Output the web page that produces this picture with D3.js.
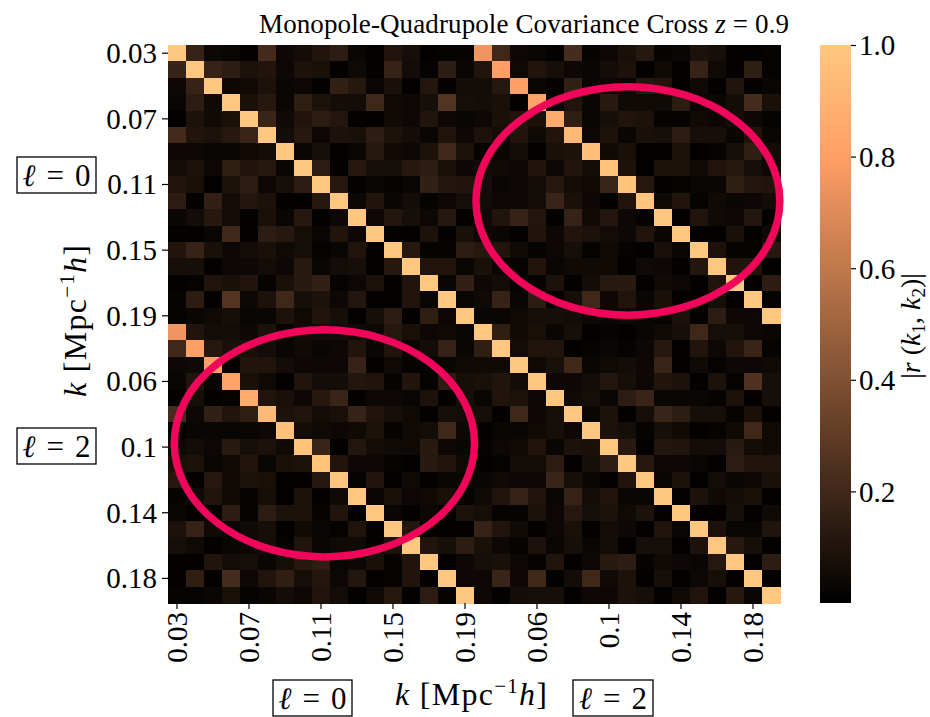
<!DOCTYPE html>
<html>
<head>
<meta charset="utf-8">
<script src="https://cdn.jsdelivr.net/npm/d3@7"></script>
<style>
  body { margin: 0; background: #fff; }
  svg text { font-family: "Liberation Serif", serif; fill: #000; }
  .tick text { font-size: 29px; }
</style>
</head>
<body>
<svg id="chart" width="930" height="717"></svg>
<script>
// k bins (same for monopole and quadrupole)
var kValues = [0.03, 0.04, 0.05, 0.06, 0.07, 0.08, 0.09, 0.1, 0.11, 0.12, 0.13, 0.14, 0.15, 0.16, 0.17, 0.18, 0.19];
var tickIndex = [0, 4, 8, 12, 16, 20, 24, 28, 32];
var colorTicks = [0.2, 0.4, 0.6, 0.8, 1.0];

// |r(k1,k2)|, l=0 x l=0 block
var monoMono = [
    [1, .17, .04, .03, .01, .21, .04, .06, .1, .14, .03, .01, .1, .07, .01, .02, .02],
    [.17, 1, .17, .14, .09, .1, .04, .09, .08, .01, .05, .01, .17, .06, .02, .14, .03],
    [.04, .17, 1, .04, .05, .09, .03, .04, .01, .16, .12, .03, .08, .01, .11, .01, .06],
    [.03, .14, .05, 1, .08, .12, .03, .15, .09, .06, .06, .2, .05, .04, .07, .26, .07],
    [.01, .09, .05, .08, 1, .18, .05, .1, .14, .11, .01, .01, .05, .04, .1, .04, .03],
    [.21, .1, .09, .12, .18, 1, .06, .12, .04, .09, .08, .14, .09, .06, .03, .1, .04],
    [.04, .04, .03, .03, .05, .06, 1, .03, .07, .01, .03, .12, .05, .04, .09, .2, .09],
    [.06, .09, .04, .15, .1, .12, .03, 1, .14, .01, .12, .07, .07, .12, .14, .08, .04],
    [.1, .08, .01, .09, .14, .04, .07, .14, 1, .12, .01, .03, .02, .03, .16, .11, .1],
    [.14, .01, .16, .06, .11, .09, .01, .01, .12, 1, .04, .1, .03, .06, .02, .04, .07],
    [.03, .06, .12, .06, .01, .08, .03, .12, .01, .04, 1, .04, .11, .07, .04, .12, .01],
    [.01, .01, .03, .2, .01, .14, .12, .07, .03, .1, .04, 1, .01, .01, .09, .01, .08],
    [.1, .17, .08, .04, .06, .08, .05, .07, .02, .03, .1, .01, 1, .12, .02, .02, .14],
    [.07, .07, .01, .04, .04, .06, .04, .13, .03, .06, .07, .01, .12, 1, .1, .1, .03],
    [.01, .02, .1, .08, .1, .02, .08, .13, .16, .02, .04, .09, .01, .1, 1, .03, .16],
    [.02, .14, .01, .26, .04, .09, .2, .07, .09, .04, .11, .01, .01, .1, .03, 1, .03],
    [.02, .03, .05, .07, .03, .03, .09, .05, .1, .07, .01, .07, .14, .01, .15, .04, 1]
];

// l=0 (rows) x l=2 (columns) block
var monoQuad = [
    [.75, .2, .04, .03, .01, .22, .02, .04, .08, .12, .02, .03, .09, .07, .01, .01, .02],
    [.1, .8, .05, .1, .07, .04, .03, .06, .09, .01, .05, .01, .17, .05, .01, .15, .02],
    [.06, .12, .8, .03, .01, .16, .03, .04, .03, .12, .1, .01, .05, .01, .1, .01, .03],
    [.06, .08, .01, .82, .02, .1, .03, .13, .05, .05, .05, .14, .03, .03, .06, .22, .08],
    [.04, .08, .1, .08, .86, .15, .03, .07, .1, .09, .02, .02, .05, .04, .07, .04, .02],
    [.09, .06, .1, .05, .1, .93, .04, .09, .03, .08, .07, .14, .07, .07, .03, .1, .03],
    [.02, .03, .06, .01, .08, .09, .97, .05, .08, .01, .01, .09, .01, .02, .07, .15, .06],
    [.06, .05, .04, .1, .04, .1, .06, .98, .09, .01, .09, .09, .05, .1, .12, .07, .04],
    [.06, .03, .04, .06, .12, .06, .05, .18, .98, .12, .01, .02, .03, .03, .15, .11, .1],
    [.06, .04, .04, .06, .18, .08, .04, .01, .1, .99, .05, .1, .02, .05, .03, .04, .06],
    [.05, .1, .17, .11, .01, .17, .05, .11, .04, .02, 1, .01, .1, .05, .04, .11, .01],
    [.04, .03, .01, .1, .04, .1, .09, .06, .04, .1, .03, 1, .01, .01, .08, .01, .05],
    [.12, .1, .05, .02, .04, .07, .02, .05, .02, .01, .08, .03, 1, .09, .02, .02, .12],
    [.08, .03, .02, .1, .03, .05, .05, .05, .01, .05, .04, .01, .11, 1, .1, .1, .01],
    [.04, .06, .02, .02, .09, .01, .06, .13, .13, .01, .05, .04, .01, .1, 1, .01, .14],
    [.05, .17, .03, .14, .01, .07, .2, .04, .1, .03, .08, .01, .01, .07, .01, 1, .02],
    [.03, .03, .05, .07, .07, .06, .04, .03, .05, .03, .02, .09, .01, .14, .04, .04, 1]
];

// l=2 x l=2 block
var quadQuad = [
    [1, .15, .05, .08, .03, .07, .01, .02, .01, .03, .05, .07, .2, .07, .07, .04, .03],
    [.15, 1, .06, .1, .1, .01, .02, .03, .02, .04, .12, .01, .1, .04, .1, .18, .02],
    [.05, .05, 1, .05, .08, .2, .03, .05, .06, .04, .18, .01, .05, .02, .04, .04, .05],
    [.08, .1, .06, 1, .04, .04, .06, .11, .07, .04, .1, .09, .01, .09, .02, .25, .07],
    [.03, .1, .09, .04, 1, .05, .07, .03, .14, .18, .03, .03, .03, .02, .09, .01, .07],
    [.07, .01, .2, .04, .07, 1, .03, .09, .01, .07, .18, .14, .07, .07, .02, .08, .01],
    [.01, .03, .03, .05, .07, .04, 1, .09, .07, .02, .07, .05, .01, .02, .05, .2, .05],
    [.02, .04, .05, .1, .03, .09, .08, 1, .13, .01, .11, .1, .06, .06, .13, .06, .05],
    [.01, .02, .06, .06, .14, .01, .07, .14, 1, .12, .04, .04, .03, .01, .14, .1, .1],
    [.03, .05, .04, .04, .18, .07, .03, .01, .1, 1, .03, .09, .01, .06, .03, .04, .08],
    [.05, .1, .17, .1, .03, .17, .06, .1, .03, .03, 1, .01, .09, .05, .06, .08, .01],
    [.07, .02, .02, .09, .04, .12, .07, .09, .05, .09, .01, 1, .01, .01, .07, .01, .05],
    [.17, .1, .05, .01, .04, .08, .01, .06, .04, .01, .1, .03, 1, .09, .03, .03, .1],
    [.08, .04, .02, .09, .03, .07, .03, .06, .01, .07, .07, .01, .09, 1, .12, .07, .01],
    [.07, .08, .04, .02, .1, .01, .04, .13, .14, .02, .05, .04, .03, .12, 1, .01, .14],
    [.04, .18, .04, .2, .01, .06, .2, .05, .09, .01, .07, .01, .04, .07, .01, 1, .01],
    [.04, .01, .06, .07, .07, .01, .04, .04, .09, .07, .01, .05, .1, .01, .12, .03, 1]
];

// full 34x34 matrix, lower-left block is the transpose of monoQuad
var n = kValues.length;
var matrix = [];
for (var i = 0; i < 2 * n; i++) {
    var row;
    if (i < n) {
        row = monoMono[i].concat(monoQuad[i]);
    } else {
        row = monoQuad.map(function (r) { return r[i - n]; }).concat(quadQuad[i - n]);
    }
    matrix.push(row);
}
var cells = [];
matrix.forEach(function (row, r) {
    row.forEach(function (v, c) {
        cells.push({ row: r, col: c, value: v });
    });
});
var labels = kValues.concat(kValues).map(function (k) { return String(k); });

var svg = d3.select("#chart");
var plotLeft = 168, plotRight = 780, plotTop = 45, plotBottom = 603;

// matplotlib copper
var copper = function (t) {
    return d3.rgb(Math.min(1, 1.25 * t) * 255, 0.7812 * t * 255, 0.4975 * t * 255).toString();
};
var color = d3.scaleSequential(copper).domain([0, 1]).clamp(true);

var idx = d3.range(2 * n);
var x = d3.scaleBand().domain(idx).range([plotLeft, plotRight]);
var y = d3.scaleBand().domain(idx).range([plotTop, plotBottom]);

svg.append("g")
    .attr("shape-rendering", "crispEdges")
    .selectAll("rect")
    .data(cells)
    .enter()
    .append("rect")
    .attr("x", function (d) { return x(d.col); })
    .attr("y", function (d) { return y(d.row); })
    .attr("width", x.bandwidth() + 0.5)
    .attr("height", y.bandwidth() + 0.5)
    .attr("fill", function (d) { return color(d.value); });

// axes
var yAxis = svg.append("g")
    .attr("transform", "translate(" + plotLeft + ",0)")
    .call(d3.axisLeft(y).tickValues(tickIndex).tickSize(6).tickPadding(5)
        .tickFormat(function (i) { return labels[i]; }));
yAxis.select(".domain").remove();
yAxis.selectAll(".tick line").attr("stroke-width", 1.2);
yAxis.selectAll(".tick text").attr("dy", "0.34em");

var xAxis = svg.append("g")
    .attr("transform", "translate(0," + plotBottom + ")")
    .call(d3.axisBottom(x).tickValues(tickIndex).tickSize(6).tickPadding(5)
        .tickFormat(function (i) { return labels[i]; }));
xAxis.select(".domain").remove();
xAxis.selectAll(".tick line").attr("stroke-width", 1.2);
xAxis.selectAll(".tick text")
    .attr("transform", "rotate(-90)")
    .attr("text-anchor", "end")
    .attr("x", -9)
    .attr("y", 0)
    .attr("dy", "0.34em");

// annotation ellipses, in cell units
var cx = d3.scaleLinear().domain([0, 2 * n]).range([plotLeft, plotRight]);
var cy = d3.scaleLinear().domain([0, 2 * n]).range([plotTop, plotBottom]);
var ellipses = [
    { col: 25.55, row: 9.5, rc: 8.44, rr: 6.96 },
    { col: 8.69, row: 24.27, rc: 8.34, rr: 6.92 }
];
svg.append("g")
    .selectAll("ellipse")
    .data(ellipses)
    .enter()
    .append("ellipse")
    .attr("cx", function (d) { return cx(d.col); })
    .attr("cy", function (d) { return cy(d.row); })
    .attr("rx", function (d) { return cx(d.rc) - plotLeft; })
    .attr("ry", function (d) { return cy(d.rr) - plotTop; })
    .attr("fill", "none")
    .attr("stroke", "#f0065a")
    .attr("stroke-width", 7.5);

// colorbar
var cbX = 820, cbW = 31;
var defs = svg.append("defs");
var grad = defs.append("linearGradient")
    .attr("id", "cbar")
    .attr("x1", 0).attr("y1", 1).attr("x2", 0).attr("y2", 0);
grad.selectAll("stop")
    .data(d3.range(0, 1.0001, 0.05))
    .enter()
    .append("stop")
    .attr("offset", function (d) { return d; })
    .attr("stop-color", function (d) { return color(d); });
svg.append("rect")
    .attr("x", cbX).attr("y", plotTop)
    .attr("width", cbW).attr("height", plotBottom - plotTop)
    .attr("fill", "url(#cbar)");
var cbScale = d3.scaleLinear().domain([0, 1]).range([plotBottom, plotTop]);
var cbAxis = svg.append("g")
    .attr("transform", "translate(" + (cbX + cbW) + ",0)")
    .call(d3.axisRight(cbScale).tickValues(colorTicks).tickSize(5).tickPadding(3)
        .tickFormat(d3.format(".1f")));
cbAxis.select(".domain").remove();
cbAxis.selectAll(".tick line").attr("stroke-width", 1.2);
cbAxis.selectAll(".tick text").attr("dy", "0.34em");

// colorbar label |r(k1,k2)|
var cbl = svg.append("text")
    .attr("transform", "translate(920,326) rotate(-90)")
    .attr("text-anchor", "middle")
    .attr("font-size", 28);
cbl.append("tspan").text("|");
cbl.append("tspan").attr("font-style", "italic").text("r");
cbl.append("tspan").text(" (");
cbl.append("tspan").attr("font-style", "italic").text("k");
cbl.append("tspan").attr("font-size", 19).attr("dy", 5).text("1");
cbl.append("tspan").attr("dy", -5).text(", ");
cbl.append("tspan").attr("font-style", "italic").text("k");
cbl.append("tspan").attr("font-size", 19).attr("dy", 5).text("2");
cbl.append("tspan").attr("dy", -5).text(")|");

// title
var title = svg.append("text")
    .attr("x", 524).attr("y", 33)
    .attr("text-anchor", "middle")
    .attr("font-size", 27)
    .attr("textLength", 530)
    .attr("lengthAdjust", "spacing");
title.append("tspan").text("Monopole-Quadrupole Covariance Cross ");
title.append("tspan").attr("font-style", "italic").text("z");
title.append("tspan").text(" = 0.9");

// axis label k [Mpc^-1 h]
function kLabel(sel) {
    sel.append("tspan").attr("font-style", "italic").text("k");
    sel.append("tspan").text("  [Mpc");
    sel.append("tspan").attr("font-size", 21).attr("dy", -12).text("\u22121");
    sel.append("tspan").attr("dy", 12).attr("font-style", "italic").text("h");
    sel.append("tspan").text("]");
}
svg.append("text")
    .attr("x", 471).attr("y", 705)
    .attr("text-anchor", "middle")
    .attr("font-size", 32)
    .attr("textLength", 152)
    .attr("lengthAdjust", "spacing")
    .call(kLabel);
svg.append("text")
    .attr("transform", "translate(86,321) rotate(-90)")
    .attr("text-anchor", "middle")
    .attr("font-size", 32)
    .attr("textLength", 152)
    .attr("lengthAdjust", "spacing")
    .call(kLabel);

// boxed multipole labels
var boxes = [
    { x: 17, y: 157, w: 79, h: 36, ell: "0" },
    { x: 17, y: 428, w: 79, h: 36, ell: "2" },
    { x: 273, y: 680, w: 79, h: 36, ell: "0" },
    { x: 573, y: 680, w: 80, h: 36, ell: "2" }
];
var bg = svg.append("g").selectAll("g").data(boxes).enter().append("g");
bg.append("rect")
    .attr("x", function (d) { return d.x; })
    .attr("y", function (d) { return d.y; })
    .attr("width", function (d) { return d.w; })
    .attr("height", function (d) { return d.h; })
    .attr("fill", "none")
    .attr("stroke", "#000")
    .attr("stroke-width", 1.3);
var bt = bg.append("text")
    .attr("x", function (d) { return d.x + d.w / 2; })
    .attr("y", function (d) { return d.y + d.h / 2; })
    .attr("dy", "0.35em")
    .attr("text-anchor", "middle")
    .attr("font-size", 31)
    .attr("textLength", 68)
    .attr("lengthAdjust", "spacing");
bt.append("tspan").attr("font-style", "italic").text("\u2113");
bt.append("tspan").text(function (d) { return " = " + d.ell; });
</script>
</body>
</html>
